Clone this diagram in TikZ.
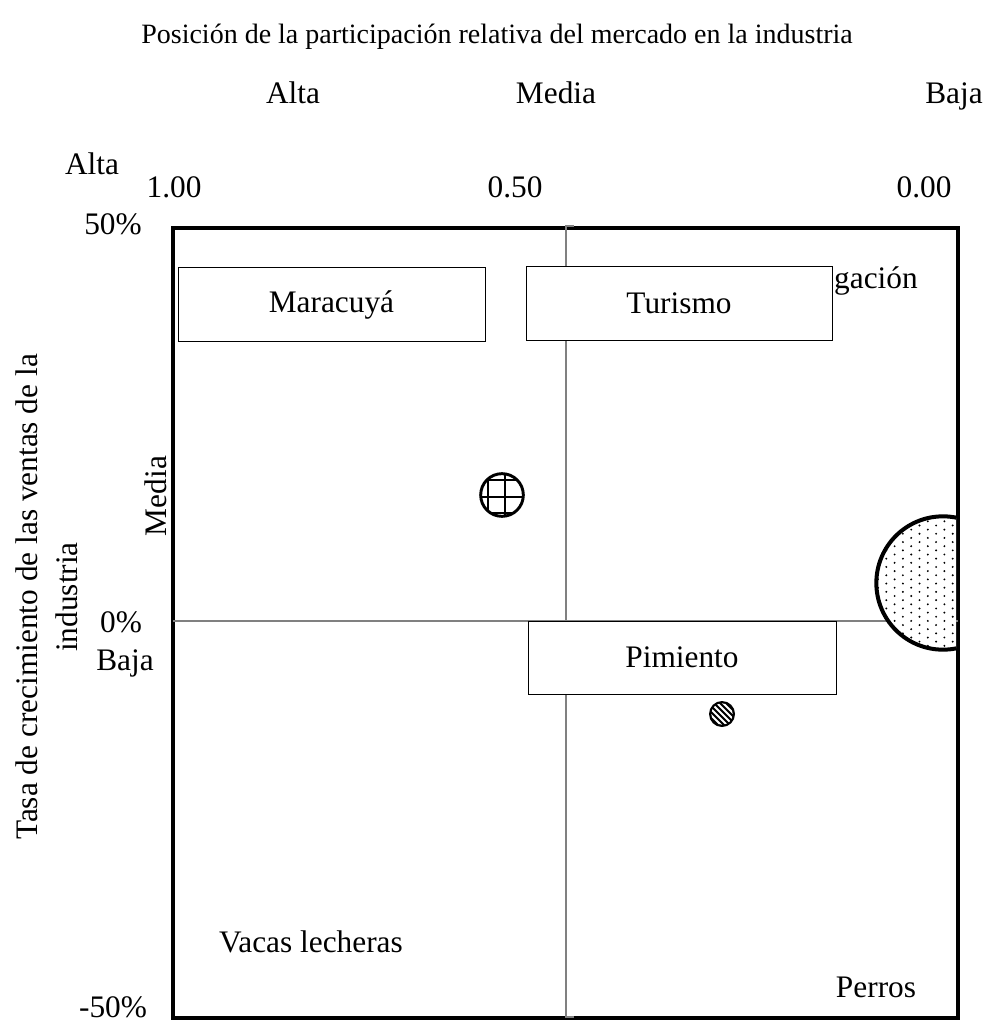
\documentclass[tikz,border=0pt]{standalone}
\usepackage{fontspec}
\setmainfont{Liberation Serif}
\usetikzlibrary{positioning}

\begin{document}
\begin{tikzpicture}[
    x=0.75pt, y=-0.75pt,
    font=\fontsize{23.5}{30}\selectfont,
    lbl/.style={inner sep=0, anchor=base},
    quadbox/.style={draw, fill=white, line width=0.75pt, inner sep=0, minimum height=54.75pt},
    divider/.style={draw=gray, line width=1.1pt},
    frame/.style={draw, line width=3pt}]
\useasboundingbox (0,0) rectangle (993,1030);

\node[lbl, font=\fontsize{21}{25}\selectfont] (title) at (497,44) {Posición de la participación relativa del mercado en la industria};
\node[lbl] (xalta)  at (293,104) {Alta};
\node[lbl] (xmedia) at (556,104) {Media};
\node[lbl] (xbaja)  at (954,104) {Baja};
\node[lbl] (yalta)  at (92,175) {Alta};
\node[lbl] (xone)   at (174,198) {1.00};
\node[lbl] (xhalf)  at (515,198) {0.50};
\node[lbl] (xzero)  at (924,198) {0.00};
\node[lbl] (ytop)   at (113,235) {50\%};
\node[lbl] (ymid)   at (121,632) {0\%};
\node[lbl] (ybaja)  at (125,670) {Baja};
\node[lbl] (ybot)   at (113,1017) {-50\%};
\node[inner sep=0, rotate=90] (ymedia) at (156,496) {Media};
\node[inner sep=0, rotate=90, align=center] (ytitle) at (47,597) {Tasa de crecimiento de las ventas de la\\industria};

\path[frame] (173,228) rectangle (958,1018);

\path[divider] (574,226) -- (566,226) -- (566,1017) -- (574,1017);
\path[divider] (173,621) -- (958,621);

\node[lbl, anchor=base east] (interr) at (918,288) {gación};

\node[quadbox, minimum width=230.25pt] (mara) at (331.5,304.5) {Maracuyá};
\node[quadbox, minimum width=229.5pt]  (turi) at (679,303.5) {Turismo};
\node[quadbox, minimum width=231pt]    (pimi) at (682,657.5) {Pimiento};

\node[lbl] (vacas)  at (311,952) {Vacas lecheras};
\node[lbl] (perros) at (876,997) {Perros};

\begin{scope}
  \clip (502,495) circle [radius=16pt];
  \draw[line width=1pt] (488,465) -- (488,525) (505,465) -- (505,525)
    (472,480) -- (532,480) (472,497) -- (532,497) (472,513) -- (532,513);
\end{scope}
\draw[line width=2.2pt] (502,495) circle [radius=16pt];

\begin{scope}
  \clip (860,500) rectangle (956,670);
  \clip (943,583) circle [radius=50pt];
  \fill[white] (943,583) circle [radius=50pt];
  \foreach \i in {0,...,10}{
    \foreach \j in {0,...,17}{
      \fill ({878+8.3*\i},{513+8.3*\j+4.15*mod(\i,2)}) circle [radius=0.8pt];
    }
  }
\end{scope}
\begin{scope}
  \clip (860,500) rectangle (956,670);
  \draw[line width=3pt] (943,583) circle [radius=50pt];
\end{scope}

\fill (722,714) circle [radius=9.75pt];
\begin{scope}
  \clip (722,714) circle [radius=8pt];
  \foreach \k in {-3,...,3}{
    \draw[white, line width=1.4pt] ({722+6*\k-16},698) -- ({722+6*\k+16},730);
  }
\end{scope}

\end{tikzpicture}
\end{document}
